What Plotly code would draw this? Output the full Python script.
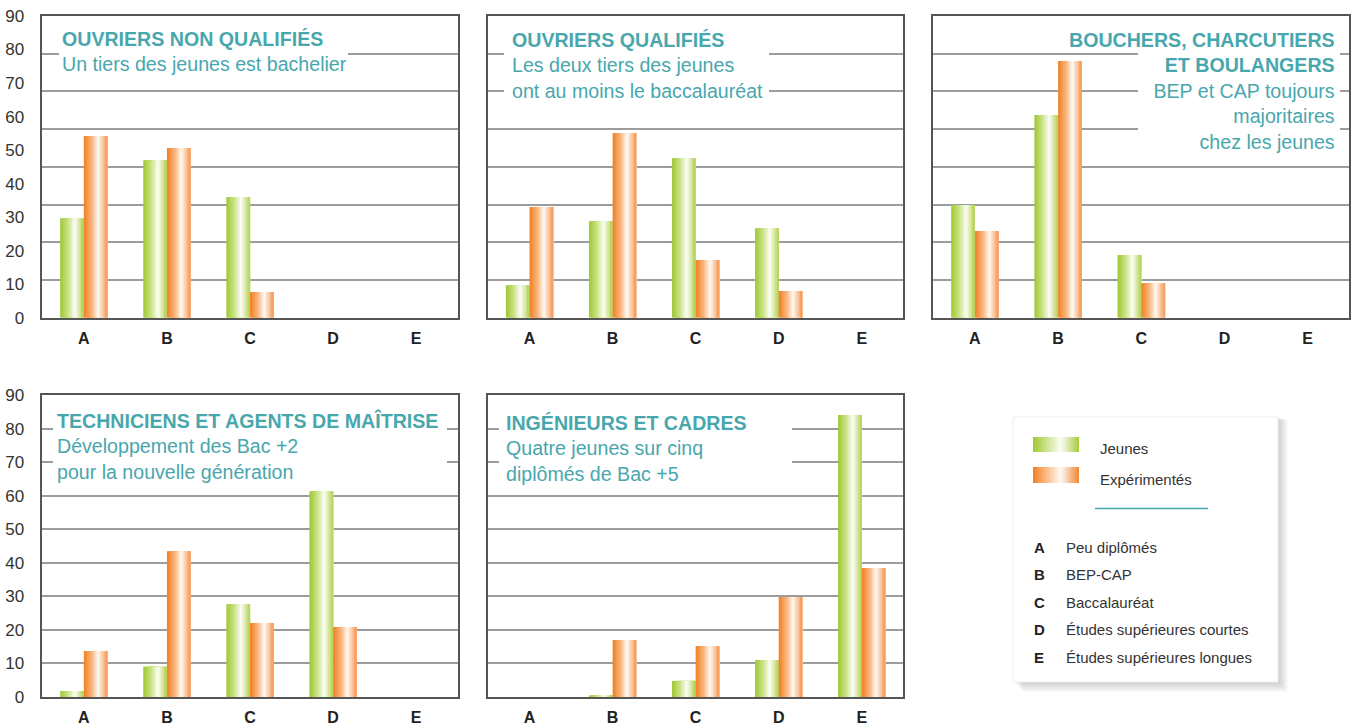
import plotly.graph_objects as go

# ---- data -------------------------------------------------------------
categories = ["A", "B", "C", "D", "E"]
y_ticks = [0, 10, 20, 30, 40, 50, 60, 70, 80, 90]
series_names = ["Jeunes", "Expérimentés"]
level_codes = ["A", "B", "C", "D", "E"]
level_names = ["Peu diplômés", "BEP-CAP", "Baccalauréat",
               "Études supérieures courtes", "Études supérieures longues"]

jeunes_onq = [29.7, 47.0, 36.0, 0, 0]
exp_onq = [54.2, 50.6, 7.7, 0, 0]
jeunes_oq = [9.7, 28.8, 47.6, 26.7, 0]
exp_oq = [33.0, 55.1, 17.2, 8.0, 0]
jeunes_bcb = [33.6, 60.5, 18.7, 0, 0]
exp_bcb = [25.9, 76.6, 10.3, 0, 0]
jeunes_tam = [1.8, 9.0, 27.7, 61.4, 0]
exp_tam = [13.7, 43.5, 22.1, 20.9, 0]
jeunes_ic = [0, 0.3, 4.8, 11.0, 84.1]
exp_ic = [0, 17.0, 15.2, 29.8, 38.5]

titles = ["OUVRIERS NON QUALIFIÉS", "OUVRIERS QUALIFIÉS",
          "BOUCHERS, CHARCUTIERS<br>ET BOULANGERS",
          "TECHNICIENS ET AGENTS DE MAÎTRISE", "INGÉNIEURS ET CADRES"]
subtitles = ["Un tiers des jeunes est bachelier",
             "Les deux tiers des jeunes<br>ont au moins le baccalauréat",
             "BEP et CAP toujours<br>majoritaires<br>chez les jeunes",
             "Développement des Bac +2<br>pour la nouvelle génération",
             "Quatre jeunes sur cinq<br>diplômés de Bac +5"]

# ---- styling ----------------------------------------------------------
W, H = 1355, 727
TEAL = "#48a7ad"
FONT = "Liberation Sans, Arial, Helvetica, sans-serif"
FRAME = "#555555"
GRID = "#9c9c9c"

GREEN_STOPS = [(0.0, (158, 199, 50)), (0.35, (204, 228, 138)),
               (0.62, (252, 253, 246)), (1.0, (178, 210, 82))]
ORANGE_STOPS = [(0.0, (240, 127, 36)), (0.35, (250, 184, 128)),
                (0.60, (255, 250, 244)), (1.0, (245, 152, 84))]
SWATCH_GREEN = [(0.0, (160, 200, 50)), (0.6, (252, 253, 246)), (1.0, (165, 203, 58))]
SWATCH_ORANGE = [(0.0, (241, 128, 38)), (0.6, (255, 250, 244)), (1.0, (242, 134, 48))]


def ramp(stops, t):
    for (t0, c0), (t1, c1) in zip(stops, stops[1:]):
        if t <= t1:
            u = (t - t0) / (t1 - t0)
            return "rgb(%d,%d,%d)" % tuple(round(a + (b - a) * u) for a, b in zip(c0, c1))
    return "rgb(%d,%d,%d)" % stops[-1][1]


def fx(px):
    return px / W


def fy(py):
    return 1 - py / H


# panel frames in pixels: left, right, top, bottom
panels = [
    dict(box=(42.3, 457.7, 16, 317.7), j=jeunes_onq, e=exp_onq, top_row=True, ylab=True,
         tx=61, ty=27, anchor="left", mask=(59, 348, 42, 70)),
    dict(box=(488, 903.3, 16, 317.7), j=jeunes_oq, e=exp_oq, top_row=True, ylab=False,
         tx=510.5, ty=28, anchor="left", mask=(504, 769, 42, 104)),
    dict(box=(933.3, 1349.3, 16, 317.7), j=jeunes_bcb, e=exp_bcb, top_row=True, ylab=False,
         tx=1336, ty=28.5, anchor="right", mask=(1138, 1340, 50, 140)),
    dict(box=(42.3, 457.7, 395.3, 697), j=jeunes_tam, e=exp_tam, top_row=False, ylab=True,
         tx=56, ty=407.5, anchor="left", mask=(53, 447, 420, 470)),
    dict(box=(488, 903.3, 395.3, 697), j=jeunes_ic, e=exp_ic, top_row=False, ylab=False,
         tx=505, ty=411, anchor="left", mask=(499, 792, 420, 470)),
]

fig = go.Figure()
layout = dict(
    width=W, height=H, margin=dict(l=0, r=0, t=0, b=0, pad=0, autoexpand=False),
    paper_bgcolor="white", plot_bgcolor="white",
    barmode="overlay", showlegend=False,
    font=dict(family=FONT, color="#333333"),
)

N_STRIPES = 14
BAR_W = 0.285
x_pos = list(range(len(categories)))

shapes = []
annotations = []

for i, p in enumerate(panels):
    n = i + 1
    xa, ya = ("x%d" % n if n > 1 else "x"), ("y%d" % n if n > 1 else "y")
    xkey, ykey = ("xaxis%d" % n if n > 1 else "xaxis"), ("yaxis%d" % n if n > 1 else "yaxis")
    l, r, t, b = p["box"]

    # bars: each bar is built from overlapping vertical stripes to render a
    # horizontal colour gradient
    for s, (vals, stops) in enumerate([(p["j"], GREEN_STOPS), (p["e"], ORANGE_STOPS)]):
        start = -BAR_W + s * BAR_W
        step = BAR_W / N_STRIPES
        for k in range(N_STRIPES):
            fig.add_trace(go.Bar(
                x=x_pos, y=vals, xaxis=xa, yaxis=ya,
                offset=start + k * step, width=BAR_W - k * step,
                marker=dict(color=ramp(stops, (k + 0.5) / N_STRIPES), line=dict(width=0)),
                name=series_names[s], hoverinfo="skip",
            ))

    layout[xkey] = dict(
        domain=[fx(l), fx(r)], anchor=ya, range=[-0.5, 4.5], automargin=False,
        tickvals=x_pos, ticktext=categories, showgrid=False, zeroline=False,
        showline=True, mirror=True, linecolor=FRAME, linewidth=1.5,
        ticks="", ticklabelstandoff=5,
        tickfont=dict(family=FONT, size=16, color="#222222", weight="bold"),
        fixedrange=True,
    )
    yax = dict(
        domain=[fy(b), fy(t)], anchor=xa, range=[0, 90], automargin=False,
        tickvals=y_ticks, zeroline=False,
        showline=True, mirror=True, linecolor=FRAME, linewidth=1.5,
        ticks="", ticklabelstandoff=13, showticklabels=p["ylab"],
        tickfont=dict(family=FONT, size=17, color="#333333"),
        fixedrange=True,
    )
    if p["top_row"]:
        yax.update(showgrid=False,
                   minor=dict(tickvals=[k * 11.25 for k in range(1, 8)], showgrid=True,
                              gridcolor=GRID, gridwidth=1.5, ticks=""))
    else:
        yax.update(showgrid=True, gridcolor=GRID, gridwidth=1.5)
    layout[ykey] = yax

    # white area behind the panel heading, interrupting the grid lines
    mx0, mx1, my0, my1 = p["mask"]
    shapes.append(dict(
        type="rect", xref=xa, yref=ya, layer="between",
        x0=-0.5 + (mx0 - l) / (r - l) * 5, x1=-0.5 + (mx1 - l) / (r - l) * 5,
        y0=(b - my1) / (b - t) * 90, y1=(b - my0) / (b - t) * 90,
        fillcolor="white", line=dict(width=0),
    ))

    annotations.append(dict(
        xref="paper", yref="paper", x=fx(p["tx"]), y=fy(p["ty"]),
        xanchor=p["anchor"], yanchor="top", align=p["anchor"], showarrow=False,
        text="<b>%s</b><br>%s" % (titles[i], subtitles[i]),
        font=dict(family=FONT, size=19.6, color=TEAL), borderpad=0,
    ))

# ---- key box ----------------------------------------------------------
KL, KR, KT, KB = 1013, 1278, 417, 682
for d in range(1, 11):
    shapes.append(dict(type="rect", xref="paper", yref="paper", layer="above",
                       x0=fx(KL + d), x1=fx(KR + d), y0=fy(KB + d), y1=fy(KT + d * 0.3),
                       fillcolor="rgba(120,120,120,0.035)", line=dict(width=0)))
shapes.append(dict(type="rect", xref="paper", yref="paper", layer="above",
                   x0=fx(KL), x1=fx(KR), y0=fy(KB), y1=fy(KT),
                   fillcolor="white", line=dict(width=1, color="#ededed")))

SW_L, SW_R = 1033, 1079
sw_rows = [(437, 452, SWATCH_GREEN), (467, 483, SWATCH_ORANGE)]
n_sw = 23
for (y0, y1, stops) in sw_rows:
    stepw = (SW_R - SW_L) / n_sw
    for k in range(n_sw):
        shapes.append(dict(type="rect", xref="paper", yref="paper", layer="above",
                           x0=fx(SW_L + k * stepw), x1=fx(SW_R), y0=fy(y1), y1=fy(y0),
                           fillcolor=ramp(stops, (k + 0.5) / n_sw), line=dict(width=0)))

for name, yc in zip(series_names, [448, 479]):
    annotations.append(dict(xref="paper", yref="paper", x=fx(1098), y=fy(yc),
                            xanchor="left", yanchor="middle", showarrow=False, text=name,
                            font=dict(family=FONT, size=15, color="#333333")))

shapes.append(dict(type="line", xref="paper", yref="paper", layer="above",
                   x0=fx(1095), x1=fx(1208), y0=fy(508.5), y1=fy(508.5),
                   line=dict(color=TEAL, width=1.5)))

for k, (code, lname) in enumerate(zip(level_codes, level_names)):
    yc = 547 + k * 27.5
    annotations.append(dict(xref="paper", yref="paper", x=fx(1032), y=fy(yc),
                            xanchor="left", yanchor="middle", showarrow=False,
                            text="<b>%s</b>" % code,
                            font=dict(family=FONT, size=15, color="#222222")))
    annotations.append(dict(xref="paper", yref="paper", x=fx(1064), y=fy(yc),
                            xanchor="left", yanchor="middle", showarrow=False, text=lname,
                            font=dict(family=FONT, size=15, color="#333333")))

layout["shapes"] = shapes
layout["annotations"] = annotations
fig.update_layout(**layout)
fig.write_html("out.html")
